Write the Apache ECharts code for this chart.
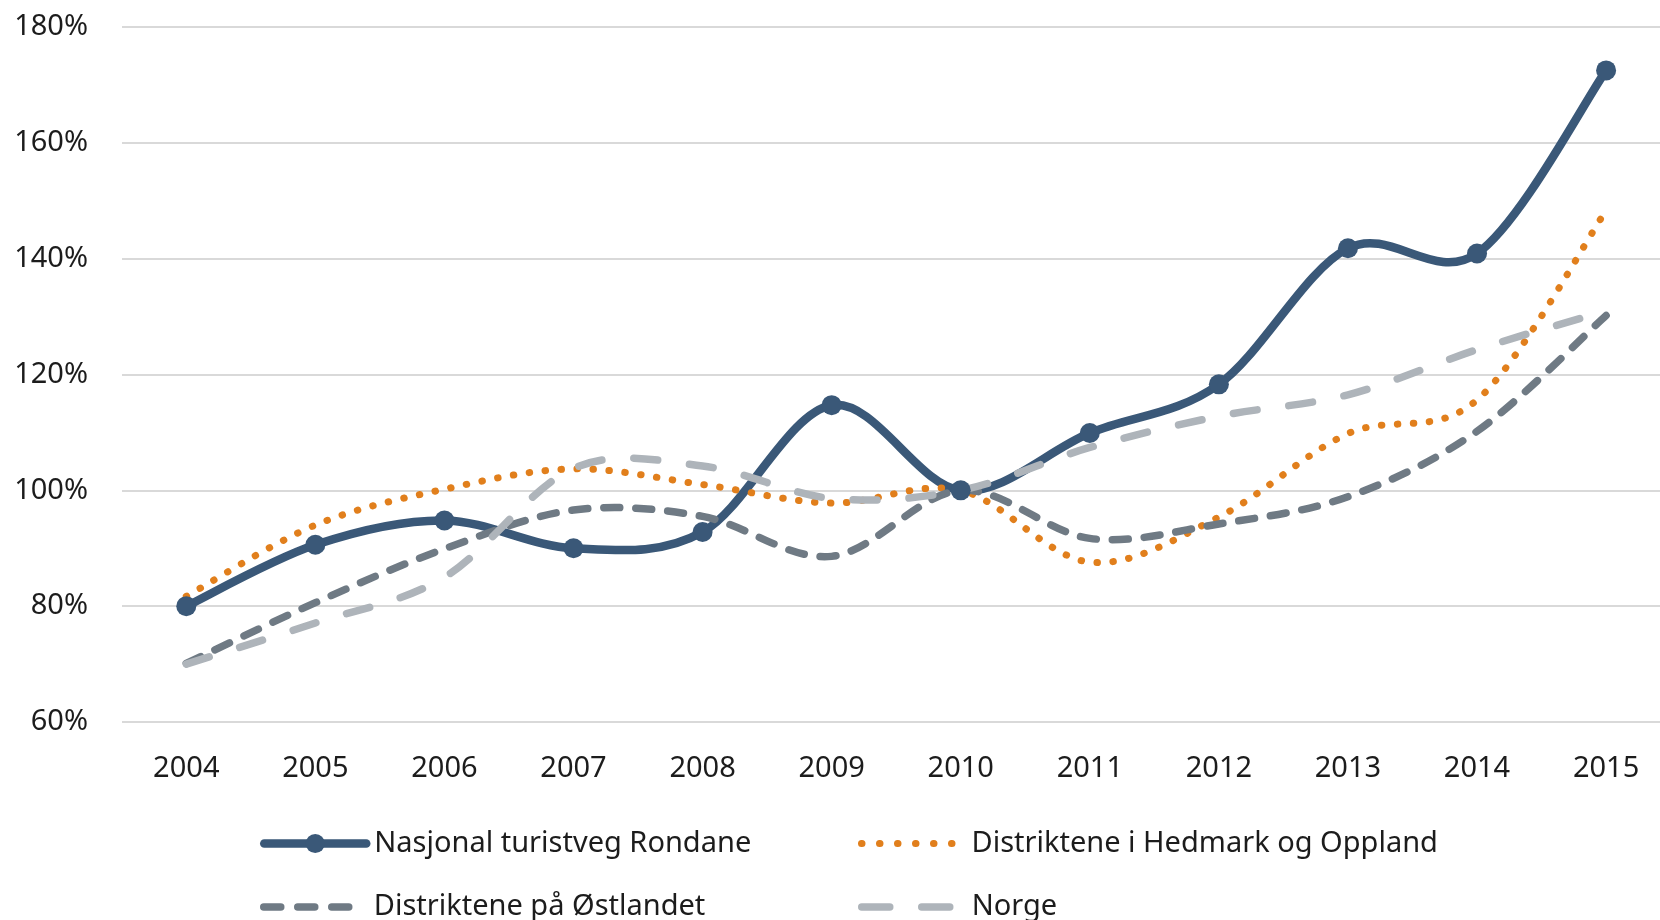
<!DOCTYPE html>
<html>
<head>
<meta charset="utf-8">
<script src="https://cdn.jsdelivr.net/npm/echarts@6/dist/echarts.min.js"></script>
<style>
html,body{margin:0;padding:0;background:#fff;}
#chart{width:1660px;height:920px;}
</style>
</head>
<body>
<div id="chart"></div>
<script>
const years = ['2004','2005','2006','2007','2008','2009','2010','2011','2012','2013','2014','2015'];
const seriesNames = ['Nasjonal turistveg Rondane','Distriktene i Hedmark og Oppland','Distriktene på Østlandet','Norge'];
const rondane   = [80.0, 90.6, 94.8, 90.0, 92.8, 114.7, 100.0, 109.9, 118.3, 141.8, 140.9, 172.5];
const hedmark   = [81.7, 94.0, 100.2, 103.7, 101.0, 97.8, 100.0, 87.6, 95.4, 109.8, 115.6, 148.3];
const ostlandet = [70.1, 80.6, 89.9, 96.6, 95.5, 88.6, 100.0, 91.7, 94.2, 98.9, 110.2, 130.2];
const norge     = [70.0, 77.1, 85.0, 103.8, 104.2, 98.6, 100.0, 107.4, 112.8, 116.5, 124.3, 131.0];
const yTicks = {min: 60, max: 180, step: 20};

const FONT = '"Noto Sans", "Open Sans", sans-serif';
const TXT = '#1c1c1c';
const NAVY = '#3a5878', ORANGE = '#e17f1c', DARK = '#6f7a84', LIGHT = '#aeb4ba';

const styles = [
  {color: NAVY,   width: 8.5, dash: null,        legendDash: null,       legendWidth: 8.5},
  {color: ORANGE, width: 7,   dash: [0.5, 15.5], legendDash: [0.5, 17.5], legendWidth: 7},
  {color: DARK,   width: 7.5, dash: [16, 16],    legendDash: [17, 17],   legendWidth: 7.5},
  {color: LIGHT,  width: 7.5, dash: [24, 32],    legendDash: [28, 32],   legendWidth: 7.5}
];
const allValues = [rondane, hedmark, ostlandet, norge];

// Excel-like (Catmull-Rom) smoothing through the axis coordinates
function smoothPathData(api, values) {
  const pts = values.map((v, i) => api.coord([i, v]));
  let d = 'M' + pts[0][0] + ',' + pts[0][1];
  for (let i = 0; i < pts.length - 1; i++) {
    const p0 = pts[Math.max(i - 1, 0)], p1 = pts[i], p2 = pts[i + 1], p3 = pts[Math.min(i + 2, pts.length - 1)];
    const c1x = p1[0] + (p2[0] - p0[0]) / 6, c1y = p1[1] + (p2[1] - p0[1]) / 6;
    const c2x = p2[0] - (p3[0] - p1[0]) / 6, c2y = p2[1] - (p3[1] - p1[1]) / 6;
    d += ' C' + c1x + ',' + c1y + ' ' + c2x + ',' + c2y + ' ' + p2[0] + ',' + p2[1];
  }
  return d;
}

function curveSeries(idx) {
  const st = styles[idx];
  const vals = allValues[idx];
  return {
    name: '_curve' + idx,
    type: 'custom',
    xAxisIndex: 1, yAxisIndex: 1,
    clip: false,
    silent: true,
    data: vals.map((v, i) => [i, v]),
    renderItem: function (params, api) {
      if (params.dataIndex !== 0) return null;
      return {
        type: 'path',
        shape: {pathData: smoothPathData(api, vals)},
        style: {
          fill: 'none', stroke: st.color, lineWidth: st.width,
          lineDash: st.dash, lineCap: 'round', lineJoin: 'round'
        }
      };
    }
  };
}

function legendSeries(idx, withSymbol) {
  const st = styles[idx];
  return {
    name: seriesNames[idx], type: 'line', xAxisIndex: 1, yAxisIndex: 1,
    data: allValues[idx], smooth: false,
    symbol: withSymbol ? 'circle' : 'none', symbolSize: 20, showSymbol: withSymbol,
    itemStyle: {color: st.color},
    lineStyle: {color: st.color, width: st.width, opacity: 0},
    emphasis: {disabled: true}
  };
}

const legendText = {fontFamily: FONT, fontSize: 29, color: TXT, lineHeight: 34};
const hiddenSym = {opacity: 0, color: 'rgba(0,0,0,0)', borderWidth: 0};
function legendFor(idx, left, top, itemWidth, pad) {
  const st = styles[idx];
  const item = {
    name: seriesNames[idx],
    lineStyle: {opacity: 1, color: st.color, width: st.legendWidth, type: st.legendDash || 'solid', cap: 'round'}
  };
  if (idx !== 0) item.itemStyle = hiddenSym;
  return {
    orient: 'horizontal', left: left, top: top, padding: 0,
    itemWidth: itemWidth, itemHeight: 24,
    textStyle: Object.assign({padding: [0, 0, 0, pad]}, legendText),
    data: [item]
  };
}

const chart = echarts.init(document.getElementById('chart'), null, {renderer: 'canvas'});
chart.setOption({
  animation: false,
  backgroundColor: '#ffffff',
  grid: [
    {left: 122, right: 0, top: 27, bottom: 198},
    {left: 186.3, width: 1419.8, top: 27, bottom: 198}
  ],
  xAxis: [
    {type: 'value', gridIndex: 0, min: 0, max: 1, show: false},
    {
      type: 'category', gridIndex: 1, data: years, boundaryGap: false,
      axisLine: {show: false}, axisTick: {show: false}, splitLine: {show: false},
      axisLabel: {fontFamily: FONT, fontSize: 29, color: TXT, margin: 30, lineHeight: 34}
    }
  ],
  yAxis: [
    {
      type: 'value', gridIndex: 0,
      min: yTicks.min, max: yTicks.max, interval: yTicks.step,
      axisLine: {show: false}, axisTick: {show: false},
      axisLabel: {fontFamily: FONT, fontSize: 29, color: TXT, margin: 34, formatter: '{value}%'},
      splitLine: {lineStyle: {color: '#d9d9d9', width: 2}}
    },
    {
      type: 'value', gridIndex: 1,
      min: yTicks.min, max: yTicks.max, interval: yTicks.step, show: false,
      splitLine: {show: false}
    }
  ],
  legend: [
    legendFor(0, 260, 826.5, 102, 3),
    legendFor(2, 260, 890, 102, 3),
    legendFor(1, 858, 826.5, 95, 10),
    legendFor(3, 858, 890, 95, 10)
  ],
  series: [
    curveSeries(0),
    legendSeries(0, true),
    curveSeries(1),
    curveSeries(2),
    curveSeries(3),
    legendSeries(1, false),
    legendSeries(2, false),
    legendSeries(3, false)
  ]
});
</script>
</body>
</html>
